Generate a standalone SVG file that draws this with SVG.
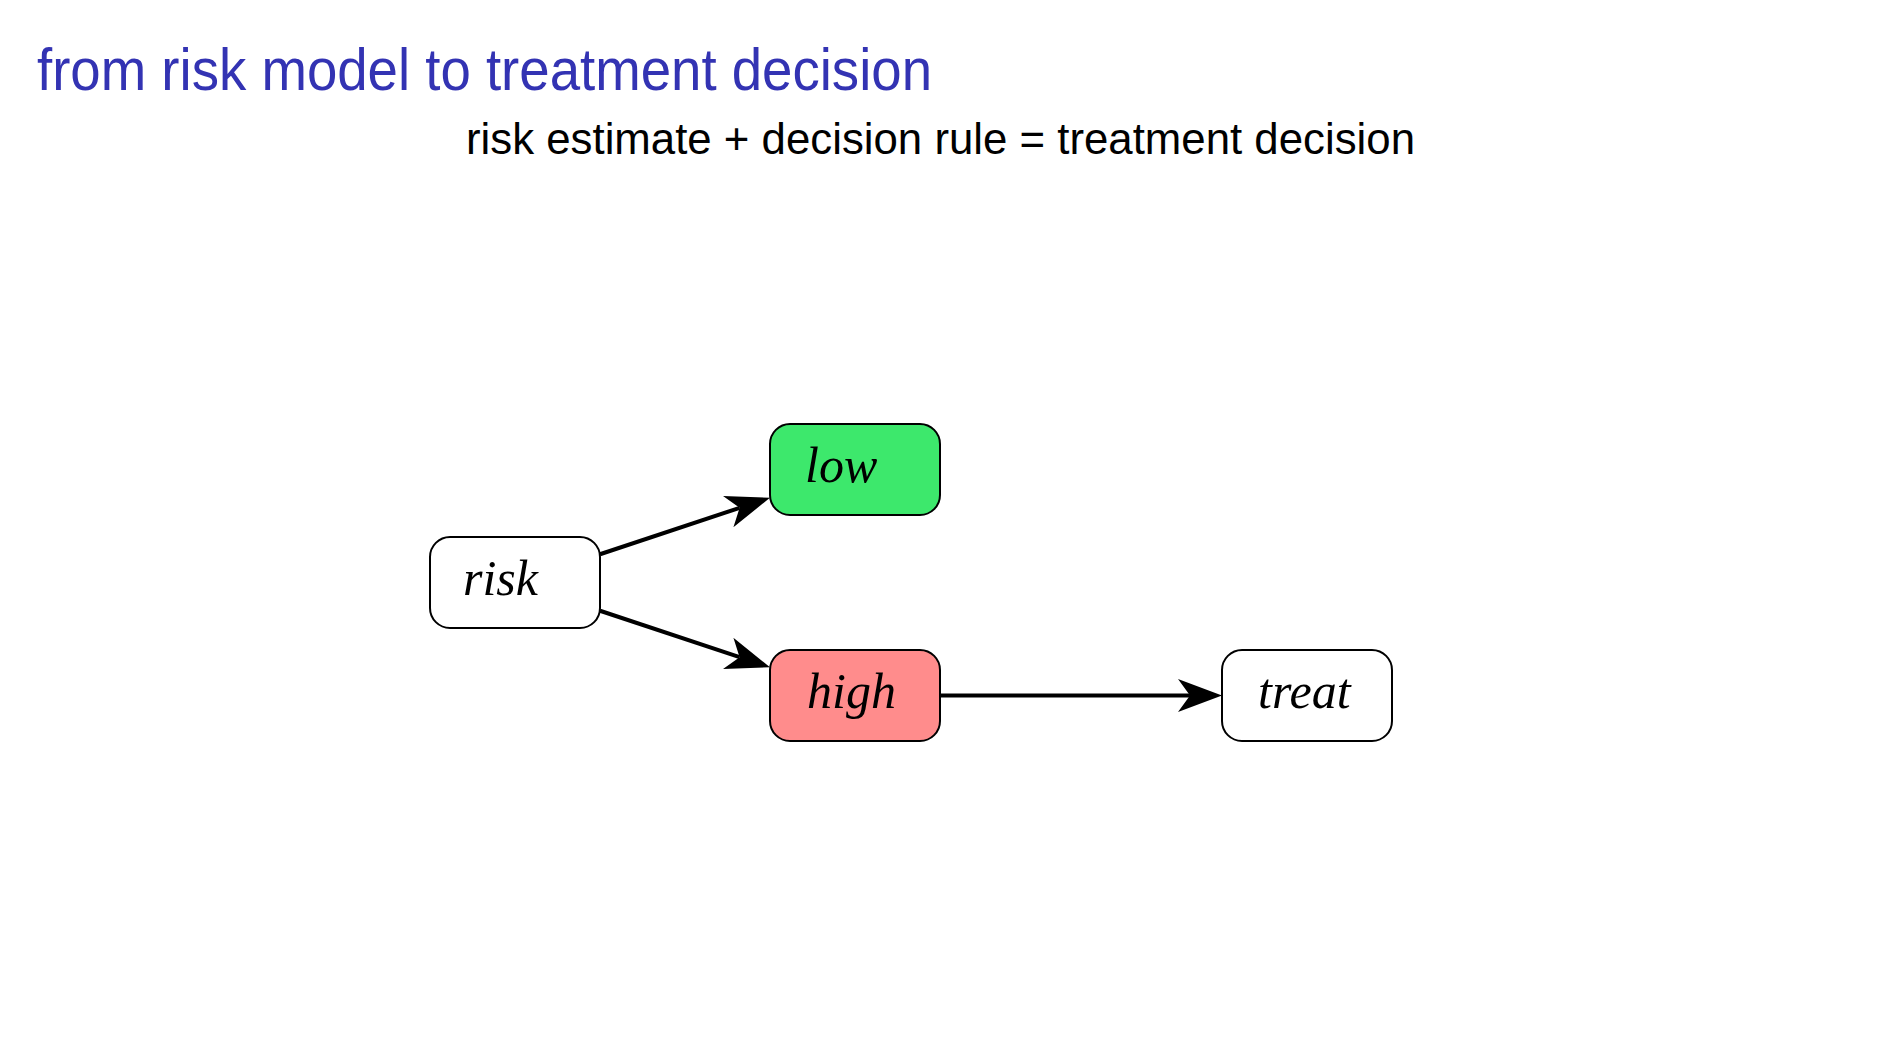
<svg xmlns="http://www.w3.org/2000/svg" width="1890" height="1063" viewBox="0 0 1890 1063">
<style>
.title{font-family:"Liberation Sans","DejaVu Sans",sans-serif;font-size:60px;fill:#3333b3}
.sub{font-family:"Liberation Sans","DejaVu Sans",sans-serif;font-size:45px;fill:#000}
.box{stroke:#000;stroke-width:2}
.lbl{font-family:"Liberation Serif","DejaVu Serif",serif;font-style:italic;font-size:50px;fill:#000}
.edge{stroke:#000;stroke-width:4;fill:none;marker-end:url(#stealth)}
</style>
<defs>
<marker id="stealth" markerUnits="userSpaceOnUse" viewBox="-14 -18 48 36" refX="0" refY="0" markerWidth="48" markerHeight="36" orient="auto" overflow="visible">
<path d="M32,0 L-12,-16.5 L0,0 L-12,16.5 Z" fill="#000"/>
</marker>
</defs>
<rect width="1890" height="1063" fill="#fff"/>
<text class="title" x="37" y="90" textLength="895" lengthAdjust="spacingAndGlyphs">from risk model to treatment decision</text>
<text class="sub" x="466" y="154" textLength="949" lengthAdjust="spacingAndGlyphs">risk estimate + decision rule = treatment decision</text>
<g id="connectors">
<path class="edge" d="M600,554.25 L739.6,507.85"/>
<path class="edge" d="M600,610.75 L739.6,657.15"/>
<path class="edge" d="M940,695.5 L1190,695.5"/>
</g>
<g id="node-risk">
<rect class="box" x="430" y="537" width="170" height="91" rx="20" fill="#fff"/>
<text class="lbl" x="463" y="595">risk</text>
</g>
<g id="node-low">
<rect class="box" x="770" y="424" width="170" height="91" rx="20" fill="#3de86c"/>
<text class="lbl" x="805" y="482">low</text>
</g>
<g id="node-high">
<rect class="box" x="770" y="650" width="170" height="91" rx="20" fill="#ff8c8c"/>
<text class="lbl" x="807" y="708">high</text>
</g>
<g id="node-treat">
<rect class="box" x="1222" y="650" width="170" height="91" rx="20" fill="#fff"/>
<text class="lbl" x="1258" y="708">treat</text>
</g>
</svg>
